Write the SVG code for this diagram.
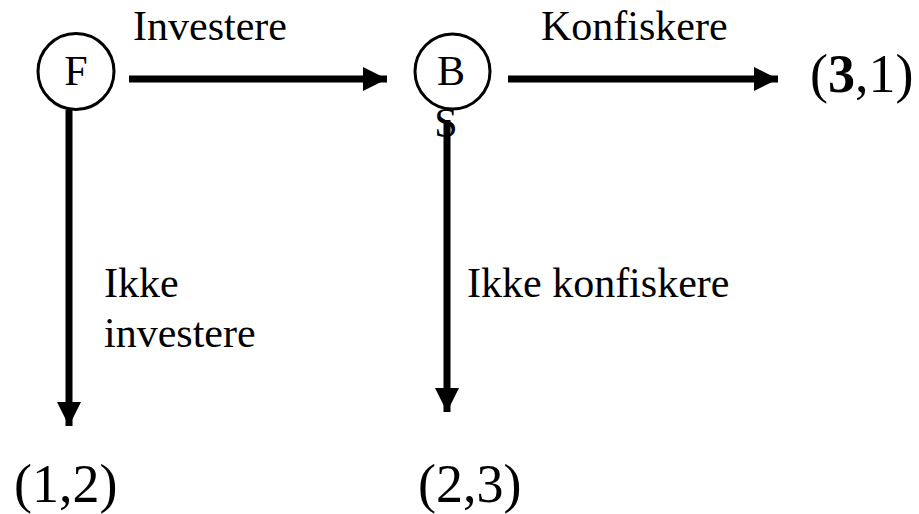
<svg xmlns="http://www.w3.org/2000/svg" width="919" height="514" viewBox="0 0 919 514">
<style>
.n{fill:none;stroke:#000;stroke-width:3}
.c{stroke:#000;stroke-width:7;fill:none}
text{font-family:'Liberation Serif','Times New Roman',serif;fill:#000}
.s42{font-size:42px}
.s54{font-size:54px}
</style>
<defs>
<marker id="ah" markerUnits="userSpaceOnUse" markerWidth="24" markerHeight="24" viewBox="0 0 24 24" refX="24" refY="12" orient="auto">
<path d="M0,0 L24,12 L0,24 Z" fill="#000"/>
</marker>
</defs>
<rect width="919" height="514" fill="#fff"/>
<g id="connectors">
<line class="c" x1="129" y1="79" x2="387" y2="79" marker-end="url(#ah)"/>
<line class="c" x1="508" y1="79" x2="778" y2="79" marker-end="url(#ah)"/>
<line class="c" x1="69" y1="110" x2="69" y2="426" marker-end="url(#ah)"/>
<line class="c" x1="447" y1="120" x2="447" y2="412" marker-end="url(#ah)"/>
</g>
<g id="node-F">
<circle class="n" cx="76" cy="71.5" r="38"/>
<text class="s42" x="76" y="85" text-anchor="middle">F</text>
</g>
<g id="node-B">
<circle class="n" cx="452.5" cy="71.5" r="37.5"/>
<text class="s42" x="451" y="85" text-anchor="middle">B</text>
<text class="s42" x="446" y="137" text-anchor="middle">S</text>
</g>
<g id="labels">
<text class="s42" x="133" y="40">Investere</text>
<text class="s42" x="541" y="40">Konfiskere</text>
<text class="s42" x="104" y="297">Ikke</text>
<text class="s42" x="104" y="347">investere</text>
<text class="s42" x="467" y="297">Ikke konfiskere</text>
</g>
<g id="node-31">
<text class="s54" x="810" y="92">(<tspan font-weight="bold">3</tspan>,1)</text>
</g>
<g id="node-12">
<text class="s54" x="14" y="502">(1,2)</text>
</g>
<g id="node-23">
<text class="s54" x="418" y="502">(2,3)</text>
</g>
</svg>
